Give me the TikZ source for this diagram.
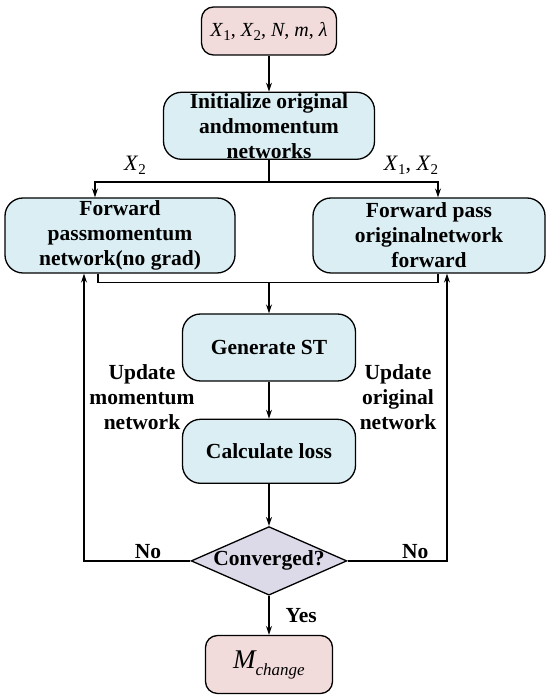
\documentclass[tikz,border=0pt]{standalone}
\usepackage{fontspec}
\setmainfont{Liberation Serif}
\usetikzlibrary{positioning,calc,arrows.meta,shapes.geometric}
\definecolor{BoxBlue}{HTML}{DAEEF3}
\definecolor{BoxPink}{HTML}{F2DCDB}
\definecolor{BoxLilac}{HTML}{DCD9E8}
\newcommand{\vsub}[2]{\textit{#1}\raisebox{-4pt}{\fontsize{15}{16}\selectfont #2}}

\begin{document}
\begin{tikzpicture}[
  x=1pt, y=1pt,
  node distance=38pt,
  box/.style={draw, line width=1.3pt, rounded corners=18pt, fill=BoxBlue, align=center, inner sep=0pt, font=\fontsize{21.5}{25}\selectfont\bfseries},
  io/.style={draw, line width=1.3pt, rounded corners=12pt, fill=BoxPink, align=center, inner sep=0pt, font=\fontsize{20}{24}\selectfont},
  dec/.style={draw, diamond, line width=1.3pt, fill=BoxLilac, aspect=2.27, inner sep=0pt, minimum width=152pt, minimum height=67pt, font=\fontsize{21.5}{25}\selectfont\bfseries},
  lbl/.style={align=center, inner sep=2pt, font=\fontsize{21.5}{25}\selectfont\bfseries},
  mlbl/.style={inner sep=0pt, font=\fontsize{22}{26}\selectfont},
  arr/.style={-{Stealth[length=9pt,width=6pt]}, line width=1.3pt},
  ln/.style={line width=1.3pt}
]
\useasboundingbox (0,0) rectangle (550,697);

\node[io, minimum width=135pt, minimum height=48pt] (inp) at (269,666) {\vsub{X}{1}, \vsub{X}{2}, \textit{N}, \textit{m}, \textit{λ}};
\node[box, minimum width=211pt, minimum height=67pt, below=36pt of inp] (init) {Initialize original\\andmomentum\\networks};
\node[box, minimum width=230pt, minimum height=75pt] (lft) at (120,461.5) {Forward\\passmomentum\\network(no grad)};
\node[box, minimum width=232pt, minimum height=75pt] (rgt) at (429,461.5) {Forward pass\\originalnetwork\\forward};
\node[box, minimum width=173pt, minimum height=67pt] (gen) at (269,349.5) {Generate ST};
\node[box, minimum width=173pt, minimum height=64pt, below=37pt of gen] (loss) {Calculate loss};
\node[dec, below=42pt of loss] (conv) {Converged?};
\node[io, minimum width=127pt, minimum height=58pt, below=39pt of conv] (mout) {{\fontsize{27}{30}\selectfont\itshape M}\raisebox{-7pt}{\fontsize{17}{20}\selectfont\itshape change}};

\node[mlbl] (xa) at (135,532) {\vsub{X}{2}};
\node[mlbl] (xb) at (411,532) {\vsub{X}{1}, \vsub{X}{2}};
\node[lbl] (updm) at (142,300) {Update\\momentum\\network};
\node[lbl] (updo) at (398,300) {Update\\original\\network};

\coordinate (jt) at ($(init.south)+(0,-22)$);
\coordinate (jb) at ($(gen.north)+(0,31)$);

\draw[arr] (inp) -- (init);
\draw[ln] (init.south) -- (jt);
\draw[arr] (jt) -| ([xshift=-25pt]lft.north);
\draw[arr] (jt) -| ([xshift=9pt]rgt.north);
\draw[ln] ([xshift=-22pt]lft.south) |- (jb) -| ([xshift=9pt]rgt.south);
\draw[arr] (jb) -- (gen);
\draw[arr] (gen) -- (loss);
\draw[arr] (loss) -- (conv);
\draw[arr] (conv) -- (mout) node[lbl, midway, right=14pt] (yes) {Yes};
\draw[arr] (conv.west) -| ([xshift=-36pt]lft.south) node[lbl, pos=0.2, above] (nol) {No};
\draw[arr] (conv.east) -| ([xshift=18pt]rgt.south) node[lbl, pos=0.34, above] (nor) {No};
\end{tikzpicture}
\end{document}
